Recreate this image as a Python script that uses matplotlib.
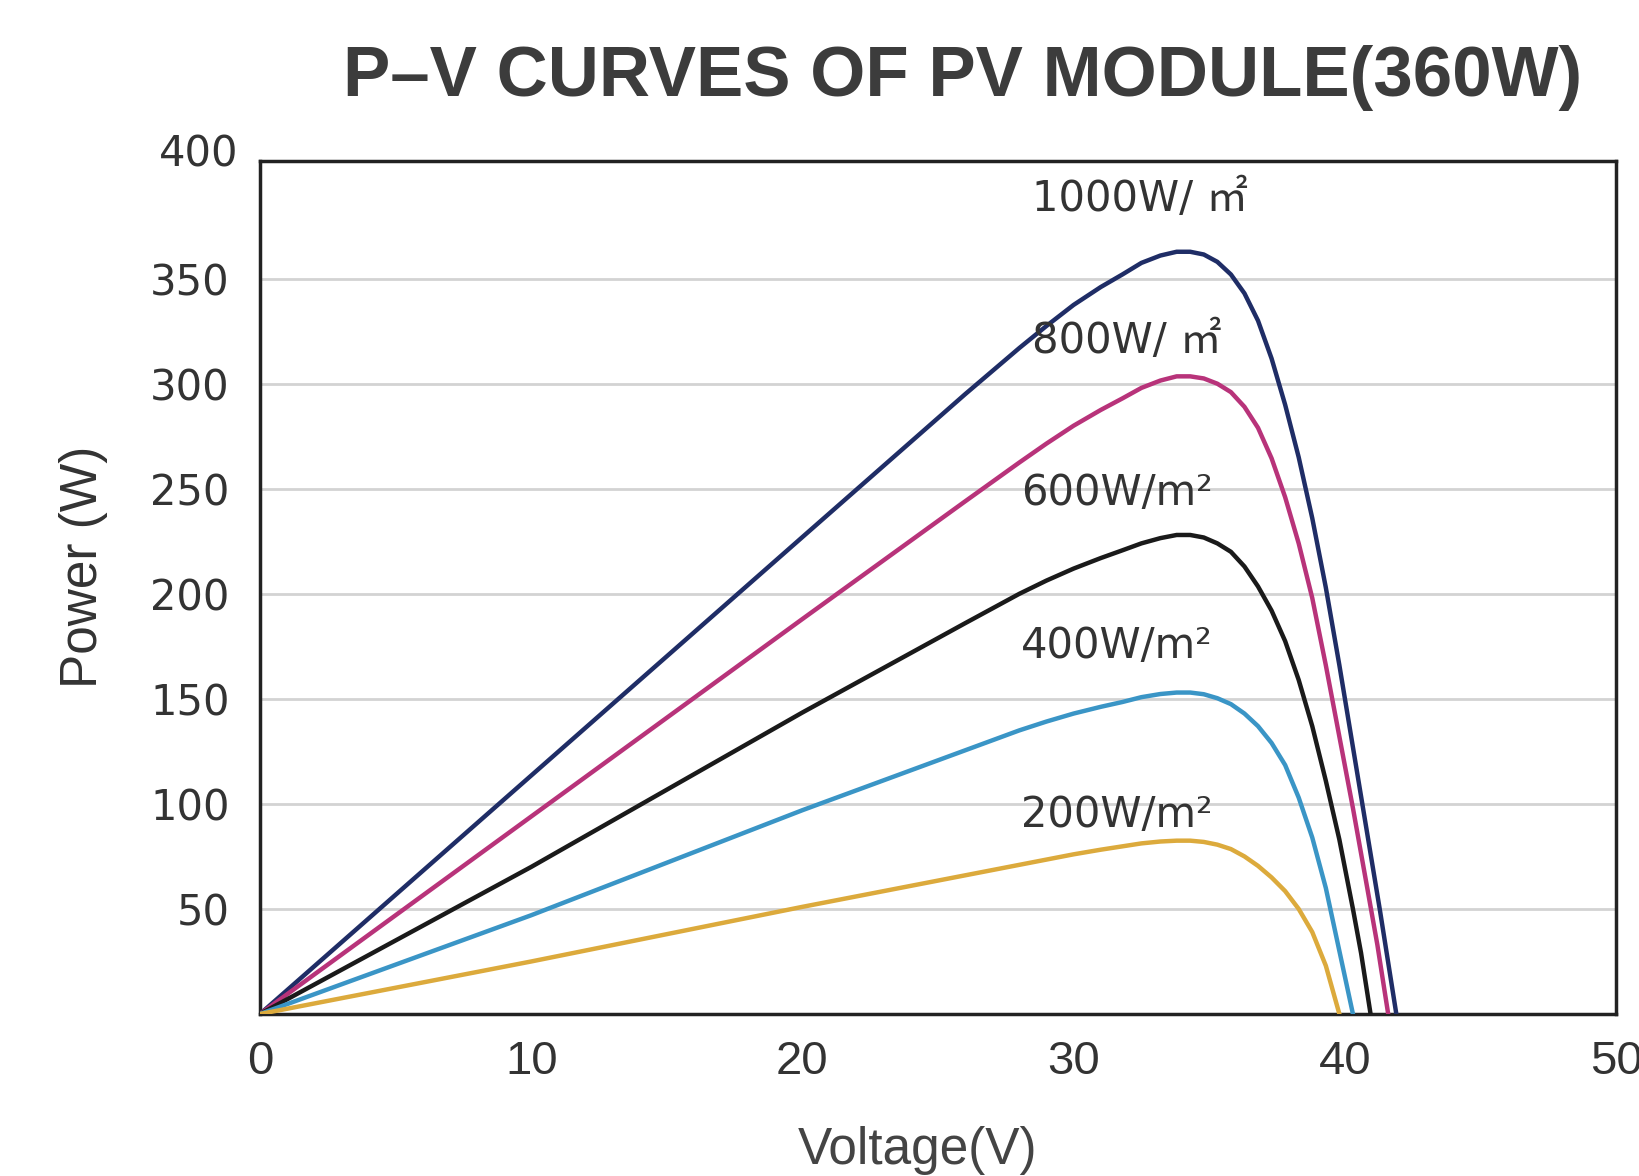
import matplotlib
matplotlib.use("Agg")
from matplotlib import pyplot as plt

# curve data (voltage V, power W)
v_1000 = [0, 10, 20, 26, 28, 29, 30, 31, 31.8, 32.5, 33.2, 33.8, 34.3, 34.8, 35.3, 35.8, 36.3, 36.8,
          37.3, 37.8, 38.3, 38.8, 39.3, 39.8, 40.3, 40.8, 41.3, 41.9]
p_1000 = [0, 113.5, 227, 295, 317, 327.5, 337.5, 346, 352, 357.5, 361, 362.8, 362.8, 361.5, 358, 352, 343, 330,
          312, 290, 265, 236, 203, 166, 127, 88, 49, 0]

v_800 = [0, 10, 20, 26, 28, 29, 30, 31, 31.8, 32.5, 33.2, 33.8, 34.3, 34.8, 35.3, 35.8, 36.3, 36.8,
         37.3, 37.8, 38.3, 38.8, 39.3, 39.8, 40.3, 40.8, 41.2, 41.6]
p_800 = [0, 94, 188, 244, 262.5, 271.5, 280, 287.5, 293, 298, 301.5, 303.5, 303.5, 302.5, 300, 296, 289, 279,
         264.5, 246, 224, 198, 166, 132, 98, 62, 33, 0]

v_600 = [0, 10, 20, 26, 28, 29, 30, 31, 31.8, 32.5, 33.2, 33.8, 34.3, 34.8, 35.3, 35.8, 36.3, 36.8,
         37.3, 37.8, 38.3, 38.8, 39.3, 39.8, 40.3, 40.6, 40.95]
p_600 = [0, 70, 143.5, 186, 200, 206.3, 212, 217, 220.7, 224, 226.5, 228, 228, 226.8, 224, 220, 213, 203.5,
         192, 177.5, 159, 137, 111, 83, 50, 29, 0]

v_400 = [0, 10, 20, 26, 28, 29, 30, 31, 31.8, 32.5, 33.2, 33.8, 34.3, 34.8, 35.3, 35.8, 36.3, 36.8,
         37.3, 37.8, 38.3, 38.8, 39.3, 39.8, 40.3]
p_400 = [0, 47, 97, 125.5, 135, 139.2, 143, 146.2, 148.5, 150.8, 152.3, 153, 153, 152.2, 150.3, 147.5, 143, 137,
         129, 118.5, 103, 84, 60, 30, 0]

v_200 = [0, 10, 20, 26, 28, 29, 30, 31, 31.8, 32.5, 33.2, 33.8, 34.3, 34.8, 35.3, 35.8, 36.3, 36.8,
         37.3, 37.8, 38.3, 38.8, 39.3, 39.8]
p_200 = [0, 25, 51, 66, 71, 73.5, 76, 78.2, 79.8, 81.2, 82.1, 82.5, 82.5, 81.9, 80.6, 78.5, 75, 70.5,
         65, 58.5, 50, 39, 23, 0]

curve_labels = ["1000W/ ㎡", "800W/ ㎡", "600W/m²", "400W/m²", "200W/m²"]
label_x = [28.45, 28.45, 28.07, 28.07, 28.07]
label_y = [388, 320.5, 248, 175, 94.5]

x_ticks = [0, 10, 20, 30, 40, 50]
y_ticks = [50, 100, 150, 200, 250, 300, 350]
y_top_label = "400"

colors = ["#1f2d66", "#b8337a", "#1a1a1a", "#3a95c6", "#dcaa3c"]
narrow = ["Liberation Sans", "DejaVu Sans"]
wide = ["DejaVu Sans", "Noto Sans CJK SC"]

fig = plt.figure(figsize=(16.39, 11.76), dpi=100)
ax = fig.add_axes([260 / 1639, 1 - 1014 / 1176, 1356 / 1639, 853 / 1176])

# grid lines (only inside the frame)
for y in y_ticks:
    ax.axhline(y, color="#d3d3d3", lw=2, zorder=1)

series = [(v_1000, p_1000), (v_800, p_800), (v_600, p_600), (v_400, p_400), (v_200, p_200)]
for (v, p), c in zip(series, colors):
    ax.plot(v, p, color=c, lw=3.2, solid_joinstyle="round", zorder=3)

for t, x, y in zip(curve_labels, label_x, label_y):
    ax.text(x, y, t, fontsize=30, color="#333333", ha="left", va="center",
            family=wide, zorder=4)

ax.set_xlim(0, 50)
ax.set_ylim(0, 406)
ax.set_xticks(x_ticks)
ax.set_xticklabels([str(x) for x in x_ticks], family=narrow, fontsize=34, color="#333333")
ax.set_yticks(y_ticks)
ax.set_yticklabels([str(y) for y in y_ticks], family=wide, fontsize=30, color="#333333")
ax.tick_params(length=0, pad=22)
ax.tick_params(axis="x", pad=19)

# the top label sits a bit above the frame in the original
ax.text(-0.016, 409, y_top_label, transform=ax.get_yaxis_transform(), family=wide,
        fontsize=30, color="#333333", ha="right", va="center")

for s in ax.spines.values():
    s.set_linewidth(2.5)
    s.set_color("#222222")

ax.set_xlabel("Voltage(V)", family=narrow, fontsize=37, color="#444444")
ax.xaxis.set_label_coords(0.485, -0.16)
ax.xaxis.label.set_va("center")
ax.set_ylabel("Power (W)", family=narrow, fontsize=37, color="#333333")
ax.yaxis.set_label_coords(-0.13, 0.524)
ax.yaxis.label.set_va("center")

fig.text(963 / 1639, 1 - 78 / 1176, "P–V CURVES OF PV MODULE(360W)", family=narrow,
         fontsize=51, fontweight="bold", color="#3c3c3c", ha="center", va="center")

fig.savefig("out.png", dpi=100, facecolor="white")
